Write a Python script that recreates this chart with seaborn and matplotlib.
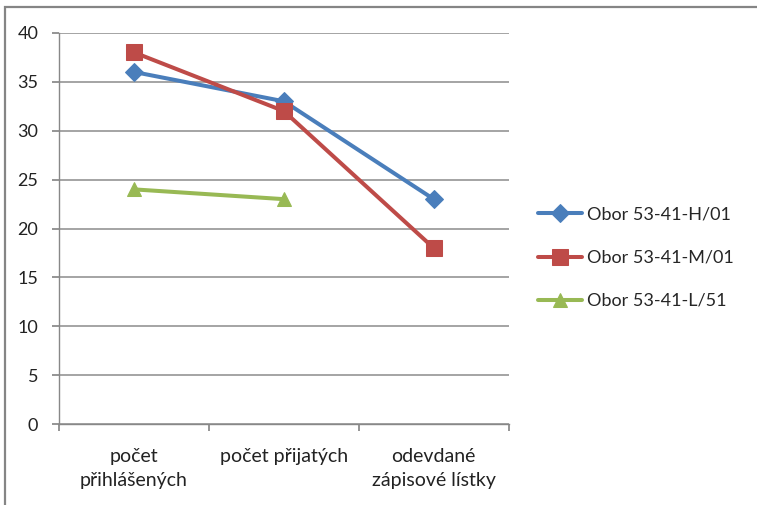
import numpy as np
import pandas as pd
import matplotlib
matplotlib.use("Agg")
import matplotlib.pyplot as plt
from matplotlib.patches import Rectangle
import seaborn as sns

categories = ["počet\npřihlášených", "počet přijatých", "odevdané\nzápisové lístky"]
series_names = ["Obor 53-41-H/01", "Obor 53-41-M/01", "Obor 53-41-L/51"]
values_h = [36, 33, 23]
values_m = [38, 32, 18]
values_l = [24, 23, np.nan]
y_ticks = [0, 5, 10, 15, 20, 25, 30, 35, 40]

colors = ["#4A7EBB", "#BE4B48", "#98B954"]
markers = ["D", "s", "^"]
msizes = [9, 12, 10]

sns.set_theme(style="white")
plt.rcParams["font.family"] = ["Lato", "DejaVu Sans"]

rows = []
for name, vals in zip(series_names, [values_h, values_m, values_l]):
    for i, v in enumerate(vals):
        rows.append({"x": i, "y": v, "series": name})
df = pd.DataFrame(rows)

fig = plt.figure(figsize=(7.57, 5.05), dpi=100)
ax = fig.add_axes([0.078, 0.160, 0.594, 0.775])

for name, c, m, ms in zip(series_names, colors, markers, msizes):
    sub = df[df["series"] == name].dropna()
    sns.lineplot(data=sub, x="x", y="y", ax=ax, color=c, marker=m, markersize=ms,
                 markeredgecolor=c, linewidth=2.9, label=name, sort=False)

ax.set_xlim(-0.5, 2.5)
ax.set_ylim(0, 40)
ax.set_yticks(y_ticks)
ax.set_yticklabels([str(t) for t in y_ticks], fontsize=13)
ax.set_xticks([-0.5, 0.5, 1.5, 2.5])
ax.set_xticklabels([])
ax.set_xticks([0, 1, 2], minor=True)
ax.set_xticklabels(categories, minor=True, fontsize=14, color="#222222", linespacing=1.5)
ax.tick_params(axis="x", which="major", length=5, color="#888888", direction="out", bottom=True)
ax.tick_params(axis="x", which="minor", length=0, pad=17)
ax.tick_params(axis="y", length=5, color="#888888", direction="out", left=True, pad=10, labelcolor="#222222")
ax.grid(axis="y", color="#8c8c8c", linewidth=1.1)
ax.set_axisbelow(True)
for s in ["top", "right"]:
    ax.spines[s].set_visible(False)
for s in ["left", "bottom"]:
    ax.spines[s].set_color("#888888")
    ax.spines[s].set_linewidth(1.0)
ax.set_xlabel("")
ax.set_ylabel("")

leg = ax.legend(loc="center left", bbox_to_anchor=(1.03, 0.425), frameon=False,
                fontsize=13, handlelength=2.4, handletextpad=0.3, labelspacing=1.5)

fig.patches.append(Rectangle((5 / 757, -0.05), 1.1, 1.05 - 7 / 505, transform=fig.transFigure,
                             fill=False, edgecolor="#858585", linewidth=1.6))

fig.savefig("out.png", dpi=100)
